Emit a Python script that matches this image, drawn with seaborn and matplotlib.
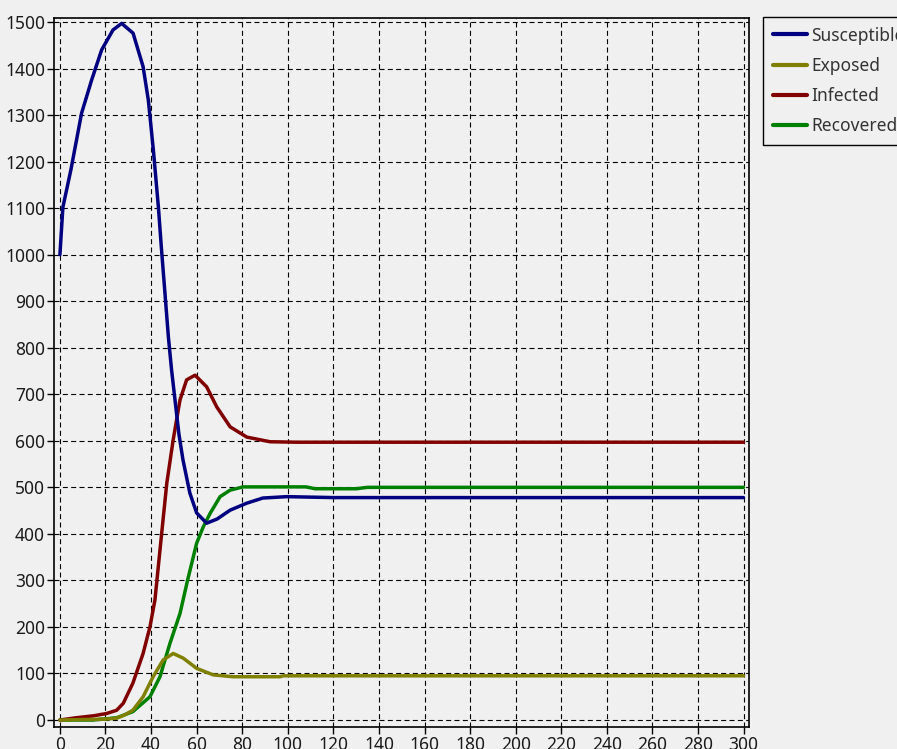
import numpy as np
import pandas as pd
import matplotlib
matplotlib.use("Agg")
import matplotlib.pyplot as plt
import seaborn as sns

# Valores (tiempo, población)
t_sus = [0, 1.3, 4.8, 9.5, 13.9, 18.3, 23.3, 27.1, 32.1, 36.5, 38.8, 41, 43.2, 44.6,
         46.1, 47.6, 49, 50.5, 52.2, 54, 57, 60, 64.4, 69, 74.7, 82, 89, 99.5, 120, 150,
         200, 250, 300]
v_sus = [1000, 1102, 1182, 1304, 1375, 1440, 1483, 1497, 1476, 1404, 1332, 1225, 1103, 1010,
         917, 823, 752, 688, 615, 559, 488, 445, 423, 432, 451, 466, 477, 480, 478, 478,
         478, 478, 478]

t_exp = [0, 10, 20, 24.9, 28, 32, 36.5, 40.9, 45.3, 49.7, 54.1, 60, 67.3, 76, 96.6, 98,
         150, 200, 250, 300]
v_exp = [0, 1, 2, 4, 10, 21, 50, 93, 129, 143, 133, 111, 97, 93, 93, 95,
         95, 95, 95, 95]

t_inf = [0, 7.3, 14.6, 20.5, 24.9, 27.8, 32, 36.5, 39.5, 41.7, 43.9, 46.9, 49.7, 52.7,
         55.6, 59.3, 64.4, 68.8, 74.7, 82, 92.2, 104, 150, 200, 250, 300]
v_inf = [0, 5, 9, 14, 21, 36, 79, 143, 200, 258, 365, 509, 602, 688,
         731, 741, 716, 673, 630, 608, 598, 597, 597, 597, 597, 597]

t_rec = [0, 14.6, 25, 32, 39.5, 43.9, 48.3, 52.7, 56, 60, 62.9, 65.9, 70.3, 74.7, 80.4,
         108, 112, 130, 135, 200, 250, 300]
v_rec = [0, 0, 5, 18, 50, 93, 165, 229, 300, 380, 415, 444, 480, 494, 501,
         501, 497, 497, 500, 500, 500, 500]

series = ["Susceptible", "Exposed", "Infected", "Recovered"]
colores = {"Susceptible": "#000080", "Exposed": "#808000",
           "Infected": "#800000", "Recovered": "#008000"}

x_ticks = list(range(0, 301, 20))
y_ticks = list(range(0, 1501, 100))

frames = []
for nombre, t, v in zip(series, [t_sus, t_exp, t_inf, t_rec], [v_sus, v_exp, v_inf, v_rec]):
    frames.append(pd.DataFrame({"t": t, "valor": v, "serie": nombre}))
df = pd.concat(frames, ignore_index=True)

sns.set_style("ticks")
plt.rcParams["font.family"] = ["Noto Sans", "DejaVu Sans"]

fondo = "#F0F0F0"
fig = plt.figure(figsize=(8.97, 7.49), dpi=100, facecolor=fondo)
ax = fig.add_axes([54 / 897, 1 - 727 / 749, 695 / 897, 709 / 749])
ax.set_facecolor(fondo)

sns.lineplot(data=df, x="t", y="valor", hue="serie", hue_order=series,
             palette=colores, estimator=None, sort=False, linewidth=2.5, ax=ax)

# orden de dibujo: la azul encima de todo
for linea, z in zip(ax.lines[:4], [5, 4, 3, 2]):
    linea.set_zorder(z)

ax.set_xlim(-2.6, 302.4)
ax.set_ylim(-15, 1508.6)
ax.set_xticks(x_ticks)
ax.set_yticks(y_ticks)
ax.set_xlabel("")
ax.set_ylabel("")
ax.grid(True, color="black", linestyle=(0, (4.5, 3)), linewidth=0.8)
ax.set_axisbelow(True)
for s in ax.spines.values():
    s.set_color("black")
    s.set_linewidth(1.2)
    s.set_visible(True)
    s.set_zorder(6)
ax.tick_params(axis="both", direction="out", length=5, width=1, color="black",
               labelsize=12.5, labelcolor="#1a1a1a", pad=1.5)

handles, labels = ax.get_legend_handles_labels()
ax.legend_.remove()
leg = fig.legend(handles, labels, loc="upper left",
                 bbox_to_anchor=(763 / 897, 1 - 17 / 749),
                 frameon=True, fancybox=False, edgecolor="black", facecolor=fondo,
                 framealpha=1, fontsize=12.5, handlelength=2.0, handletextpad=0.25,
                 labelspacing=0.7, borderpad=0.55, borderaxespad=0)
leg.get_frame().set_linewidth(1.0)
for h in leg.get_lines():
    h.set_linewidth(3)
for txt in leg.get_texts():
    txt.set_color("#333333")

fig.savefig("out.png", dpi=100, facecolor=fondo)
